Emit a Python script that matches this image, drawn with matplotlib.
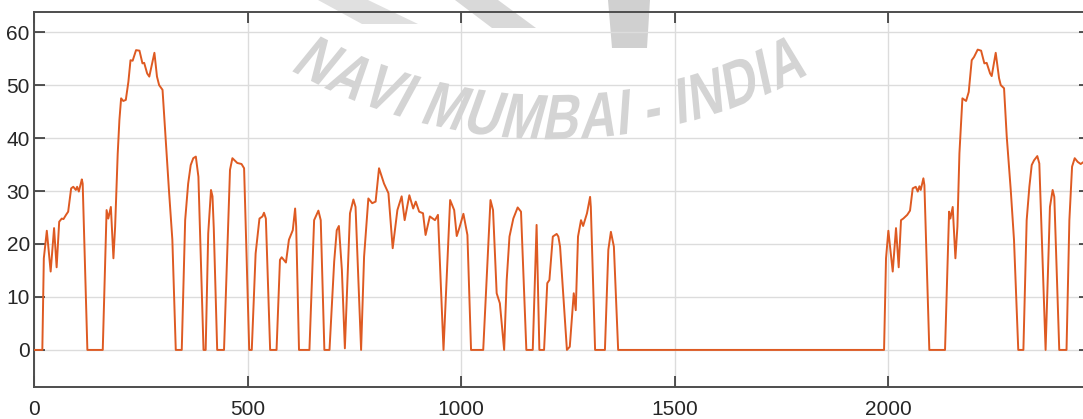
import numpy as np
import matplotlib
matplotlib.use('Agg')
import matplotlib.pyplot as plt
from matplotlib.patches import Polygon, PathPatch
from matplotlib.textpath import TextPath
from matplotlib.font_manager import FontProperties
from matplotlib.transforms import Affine2D

# speed trace (time in s, speed in km/h)
time_s = [0, 19.5, 23, 30, 39, 47, 53, 59, 65, 69, 75, 80, 87, 92, 98, 101, 105, 112, 114,
          125, 161, 170, 174, 180, 183, 186, 190, 196, 200, 204, 209, 215, 221, 226, 231,
          239, 247, 254, 258, 265, 270, 282, 288, 293, 301, 307, 316, 324, 332, 346,
          354, 361, 367, 373, 379, 385, 397, 402, 408, 414.5, 418, 421, 429, 445,
          459, 464.6, 476, 486, 492, 504, 510, 519, 528, 535, 538.6, 543, 553, 568,
          576, 580, 590, 597, 606, 611.5, 614, 620.6, 645, 656, 666, 671.5, 680, 692,
          703, 709, 714, 721, 728, 740, 748, 753, 766, 773, 783, 792, 800, 808,
          819.7, 830, 840, 851, 861, 868, 879, 888, 894, 902, 911, 917, 927, 939, 946,
          959, 974.5, 984, 990, 996, 1005.6, 1015, 1023.5, 1052, 1069, 1075, 1083.5,
          1091, 1101, 1107, 1113.5, 1122.5, 1132.7, 1140.5, 1153, 1168, 1177, 1183.5,
          1194.5, 1202, 1207, 1215, 1224, 1228, 1232, 1248, 1254.7, 1264, 1268.7, 1274,
          1281, 1286, 1295, 1302.3, 1304, 1314, 1337, 1345, 1351, 1358, 1368, 1990.7,
          1995.3, 2000.8, 2011, 2018.7, 2025, 2030.4, 2035.8, 2045, 2051.5, 2057.8,
          2064.9, 2069.6, 2073.5, 2076.6, 2082.8, 2085.2, 2096.7, 2133.5, 2143, 2146,
          2151.5, 2157.8, 2162.5, 2167.2, 2174.2, 2182.8, 2189, 2196, 2201.4, 2210,
          2218, 2225.6, 2231, 2239, 2242.8, 2252.2, 2260, 2264, 2271.7, 2278, 2287.4,
          2295, 2305, 2317, 2324.7, 2331, 2336.5, 2342, 2349.6, 2354.3, 2369, 2379.2,
          2385.5, 2389.4, 2401, 2418, 2424.7, 2431, 2437.2, 2444.2, 2451.3, 2458]
speed_kmh = [0, 0, 17.3, 22.5, 14.8, 23, 15.6, 24.2, 24.8, 24.7, 25.5, 26.1, 30.5, 30.8, 30.2, 30.8, 29.9, 32.2, 31.4,
             0, 0, 26.4, 24.8, 27, 22, 17.3, 23.3, 37, 43.4, 47.5, 47, 47.2, 50.6, 54.7, 54.6,
             56.6, 56.5, 54.1, 54.2, 52.2, 51.6, 56.1, 51.6, 50, 49.1, 41.5, 30.2, 20.8, 0, 0,
             24.5, 31.4, 34.9, 36.2, 36.5, 32.7, 0, 0, 22, 30.2, 29, 23, 0, 0,
             34, 36.2, 35.3, 35.1, 34.3, 0, 0, 18.2, 24.8, 25.2, 25.9, 24.8, 0, 0,
             17, 17.5, 16.5, 20.8, 22.6, 26.7, 23.3, 0, 0, 24.5, 26.3, 24.5, 0, 0,
             16.7, 22.6, 23.4, 15.1, 0.3, 25.8, 28.4, 27, 0, 17.6, 28.6, 27.7, 28, 34.3,
             31.4, 29.6, 19.2, 26.4, 29, 24.5, 29.2, 26.7, 28, 26.1, 25.8, 21.7, 25.2, 24.5, 25.5,
             0, 28.3, 26.4, 21.5, 23, 25.7, 21.7, 0, 0, 28.3, 26.4, 10.7,
             8.8, 0, 13.2, 21.4, 24.8, 26.9, 26.1, 0, 0, 23.6, 0,
             0, 12.6, 13.2, 21.4, 21.9, 21.4, 19.5, 0, 0.6, 10.7, 7.5, 21.4,
             24.5, 23.4, 25.8, 28.9, 27, 0, 0, 18.9, 22.3, 19.5, 0, 0,
             17.3, 22.5, 14.8, 23, 15.6, 24.5, 24.8, 25.5, 26.3, 30.5,
             30.8, 29.9, 30.9, 30.2, 32.4, 31.1, 0, 0, 26.1, 24.8,
             27, 17.3, 23.3, 37.1, 47.5, 47, 48.7, 54.7, 55.3, 56.7,
             56.5, 54.1, 54.2, 52.2, 51.7, 56.1, 51.3, 50, 49.4, 40.3, 30.2,
             20.8, 0, 0, 24.5, 30.8, 34.9, 35.8, 36.6, 35.2, 0, 27,
             30.2, 28.9, 0, 0, 24.5, 34.6, 36.2, 35.5, 35.1, 35.5]

x_ticks = [0, 500, 1000, 1500, 2000]
y_ticks = [0, 10, 20, 30, 40, 50, 60]
watermark = "NAVI MUMBAI - INDIA"

W, H = 1083, 419
line_color = '#DE5A22'

fig = plt.figure(figsize=(W / 100, H / 100), dpi=100)
fig.patch.set_facecolor('white')
# right spine sits just past the image edge in the original
ax = fig.add_axes([34 / W, 1 - 387 / H, (1090 - 34) / W, (387 - 12) / H])

ax.plot(time_s, speed_kmh, color=line_color, linewidth=1.4, zorder=3)

ax.set_xlim(0, 2473)
ax.set_ylim(-7, 63.8)
ax.set_xticks(x_ticks)
ax.set_yticks(y_ticks)
ax.grid(True, color='#dcdcdc', linewidth=1.0)
ax.set_axisbelow(True)
ax.tick_params(axis='both', direction='in', length=8, width=1.1, color='#262626',
               top=True, right=True, labelsize=15, labelcolor='#262626')
ax.tick_params(axis='x', pad=9)
ax.tick_params(axis='y', pad=3)
for lab in ax.get_xticklabels() + ax.get_yticklabels():
    lab.set_family(['Liberation Sans', 'DejaVu Sans'])
for sp in ax.spines.values():
    sp.set_color('#4d4d4d')
    sp.set_linewidth(1.4)

# pixel coords (y up) -> figure
px_to_fig = Affine2D().scale(1 / W, 1 / H) + fig.transFigure

# faint logo shapes at the top (pixel coords, y down)
logo_shapes = [
    ([(318, 0), (368, 0), (418, 24), (362, 24)], '#e0e0e0'),
    ([(455, 0), (498, 0), (536, 28), (492, 28)], '#d9d9d9'),
    ([(608, 0), (650, 0), (647, 48), (612, 48)], '#d0d0d0'),
]
for shape, col in logo_shapes:
    poly = Polygon([(px, H - py) for px, py in shape], closed=True,
                   facecolor=col, edgecolor='none', transform=px_to_fig,
                   clip_on=False, zorder=0.3)
    ax.add_patch(poly)

# watermark text bent along an arc, letters stretched tall and slanted
fp = FontProperties(family='Liberation Sans', weight='bold')
adv = {'N': .722, 'A': .722, 'V': .667, 'I': .278, ' ': .278, 'M': .833,
       'U': .722, 'B': .722, '-': .333, 'D': .722}
sx, sy = 50, 64
R, cx, cy = 510, 553, -394
total = sum(adv[c] for c in watermark) * sx
s = -total / 2
for ch in watermark:
    w = adv[ch] * sx
    phi = (s + w / 2) / R
    s += w
    if ch == ' ':
        continue
    tp = TextPath((0, 0), ch, size=1, prop=fp)
    bb = tp.get_extents()
    px = cx + R * np.sin(phi)
    py = H - (cy + R * np.cos(phi))
    tr = (Affine2D().translate(-(bb.x0 + bb.x1) / 2, -0.36)
          .scale(sx, sy).skew_deg(12, 0).rotate(phi).translate(px, py))
    patch = PathPatch(tr.transform_path(tp), facecolor='#d4d4d4', edgecolor='none',
                      transform=px_to_fig, clip_on=False, zorder=1.6)
    ax.add_patch(patch)

fig.savefig('out.png', dpi=100, facecolor='white')
